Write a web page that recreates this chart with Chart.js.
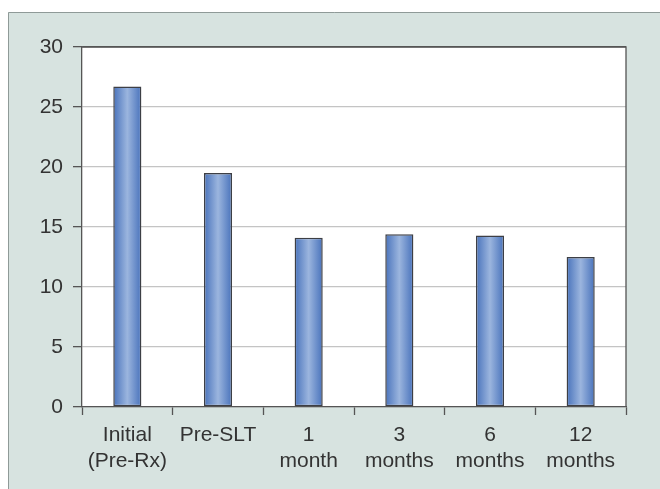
<!DOCTYPE html>
<html>
<head>
<meta charset="utf-8">
<script src="https://cdn.jsdelivr.net/npm/chart.js@4/dist/chart.umd.min.js"></script>
<style>
  html, body { margin: 0; padding: 0; background: #ffffff; }
  #wrap { width: 660px; height: 489px; }
</style>
</head>
<body>
<div id="wrap"><canvas id="c" width="660" height="489"></canvas></div>
<script>
// Measurements at each follow-up visit
const categories = [["Initial", "(Pre-Rx)"], "Pre-SLT", ["1", "month"], ["3", "months"], ["6", "months"], ["12", "months"]];
const values = [26.7, 19.5, 14.1, 14.4, 14.3, 12.5];
const yTicks = [0, 5, 10, 15, 20, 25, 30];

const BAR_PCT = 0.31;

// Horizontal cylinder-like shading for each bar
function barGradient(ctx) {
  const chart = ctx.chart;
  const xs = chart.scales.x;
  if (!xs || !chart.chartArea || ctx.dataIndex === undefined) return '#6f92cf';
  const cx = xs.getPixelForValue(ctx.dataIndex);
  const w = (chart.chartArea.width / categories.length) * BAR_PCT;
  const g = chart.ctx.createLinearGradient(cx - w / 2, 0, cx + w / 2, 0);
  g.addColorStop(0, '#4872bb');
  g.addColorStop(0.5, '#9bb5de');
  g.addColorStop(1, '#4872bb');
  return g;
}

// Panel background, white plot area and plot frame
const framePlugin = {
  id: 'frame',
  beforeDraw(chart) {
    const c = chart.ctx;
    const a = chart.chartArea;
    c.save();
    c.fillStyle = '#ffffff';
    c.fillRect(0, 0, chart.width, chart.height);
    c.fillStyle = '#d7e3e0';
    c.fillRect(8, 12, chart.width - 8, chart.height - 12);
    c.strokeStyle = '#8f9a98';
    c.lineWidth = 1;
    c.beginPath();
    c.moveTo(8.5, chart.height);
    c.lineTo(8.5, 12.5);
    c.lineTo(chart.width, 12.5);
    c.stroke();
    c.fillStyle = '#ffffff';
    c.fillRect(a.left, a.top, a.right - a.left, a.bottom - a.top);
    c.restore();
  },
  afterDraw(chart) {
    const c = chart.ctx;
    const a = chart.chartArea;
    c.save();
    c.strokeStyle = '#555555';
    c.lineWidth = 1.3;
    c.beginPath();
    c.moveTo(a.left, a.top);
    c.lineTo(a.right, a.top);
    c.lineTo(a.right, a.bottom);
    c.stroke();
    c.restore();
  }
};

new Chart(document.getElementById('c'), {
  type: 'bar',
  data: {
    labels: categories,
    datasets: [{
      data: values,
      backgroundColor: barGradient,
      borderColor: '#3d3f45',
      borderWidth: 1.5,
      borderSkipped: false,
      categoryPercentage: 1,
      barPercentage: BAR_PCT
    }]
  },
  options: {
    responsive: false,
    animation: false,
    devicePixelRatio: 1,
    layout: { padding: { left: 0, top: 47, right: 34, bottom: 0 } },
    plugins: { legend: { display: false }, tooltip: { enabled: false } },
    scales: {
      x: {
        afterFit(s) { s.height = 82; },
        grid: {
          offset: true,
          drawOnChartArea: false,
          drawTicks: true,
          tickLength: 8,
          tickColor: '#555555',
          tickWidth: 1.3
        },
        border: { color: '#555555', width: 1.3 },
        ticks: {
          color: '#333333',
          font: { family: 'Liberation Sans, Arial, sans-serif', size: 21, lineHeight: 1.2 },
          padding: 8,
          maxRotation: 0,
          autoSkip: false
        }
      },
      y: {
        min: 0,
        max: 30,
        afterFit(s) { s.width = 82; },
        afterBuildTicks(s) { s.ticks = yTicks.map(v => ({ value: v })); },
        grid: {
          color: ctx => (ctx.tick && ctx.tick.value === 30 ? '#555555' : '#c4c4c4'),
          lineWidth: 1.3,
          drawTicks: true,
          tickLength: 9,
          tickColor: '#555555',
          tickWidth: 1.3
        },
        border: { color: '#555555', width: 1.3 },
        ticks: {
          color: '#333333',
          font: { family: 'Liberation Sans, Arial, sans-serif', size: 21 },
          padding: 10
        }
      }
    }
  },
  plugins: [framePlugin]
});
</script>
</body>
</html>
